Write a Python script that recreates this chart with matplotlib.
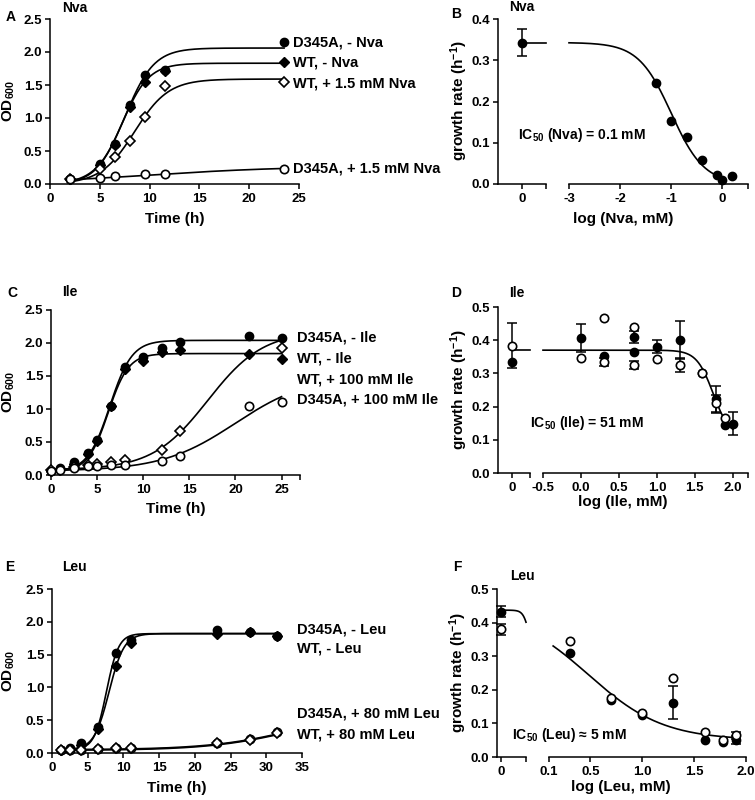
import numpy as np
import matplotlib
matplotlib.use('Agg')
import matplotlib.pyplot as plt

plt.rcParams['font.family'] = ['Liberation Sans', 'DejaVu Sans']
plt.rcParams['font.weight'] = 'bold'
plt.rcParams['mathtext.fontset'] = 'custom'
plt.rcParams['mathtext.rm'] = 'Liberation Sans:bold'
plt.rcParams['mathtext.it'] = 'Liberation Sans:bold'
plt.rcParams['mathtext.bf'] = 'Liberation Sans:bold'
plt.rcParams['axes.linewidth'] = 1.1

# ---------------- data ----------------
# A: growth curves, norvaline
tA = [2, 5, 6.5, 8, 9.5, 11.5, 23.5]
A_d345a_minus = [0.08, 0.31, 0.61, 1.19, 1.65, 1.73, 2.15]
A_wt_minus = [0.08, 0.29, 0.59, 1.17, 1.55, 1.71, 1.85]
A_wt_plus = [0.07, 0.22, 0.41, 0.65, 1.01, 1.48, 1.54]
tA_d345a_plus = [2, 5, 6.5, 9.5, 11.5, 23.5]
A_d345a_plus = [0.07, 0.09, 0.12, 0.15, 0.15, 0.23]
A_labels = ['D345A, - Nva', 'WT, - Nva', 'WT, + 1.5 mM Nva', 'D345A, + 1.5 mM Nva']
A_label_y = [2.15, 1.84, 1.53, 0.24]
# logistic fits: base, amplitude, t50, slope
A_fits = [(0.0, 2.06, 7.55, 1.45), (0.0, 1.83, 7.23, 1.34),
          (0.0, 1.59, 8.5, 1.7), (0.0, 0.27, 10.0, 7.0)]

# C: growth curves, isoleucine
tC = [0, 1, 2.5, 4, 5, 6.5, 8, 10, 12, 14, 21.5, 25]
C_d345a_minus = [0.066, 0.10, 0.19, 0.34, 0.53, 1.05, 1.63, 1.79, 1.92, 2.02, 2.10, 2.08]
C_wt_minus = [0.06, 0.09, 0.17, 0.32, 0.52, 1.05, 1.60, 1.72, 1.87, 1.90, 1.84, 1.76]
tC_wt_plus = [0, 1, 2.5, 4, 5, 6.5, 8, 12, 14, 25]
C_wt_plus = [0.07, 0.08, 0.12, 0.15, 0.17, 0.19, 0.22, 0.38, 0.67, 1.93]
tC_d345a_plus = [0, 1, 2.5, 4, 5, 6.5, 8, 12, 14, 21.5, 25]
C_d345a_plus = [0.06, 0.08, 0.10, 0.13, 0.14, 0.15, 0.15, 0.21, 0.29, 1.04, 1.11]
C_labels = ['D345A, - Ile', 'WT, - Ile', 'WT, + 100 mM Ile', 'D345A, + 100 mM Ile']
C_label_y = [2.09, 1.77, 1.45, 1.14]
C_fits = [(0.05, 1.99, 6.38, 1.2), (0.05, 1.79, 6.2, 1.1),
          (0.08, 2.1, 17.0, 3.0), (0.06, 1.45, 20.0, 4.0)]

# E: growth curves, leucine
tE = [1.2, 2.5, 4.0, 6.4, 9.0, 11.0, 23.1, 27.7, 31.5]
E_d345a_minus = [0.05, 0.07, 0.15, 0.39, 1.53, 1.73, 1.87, 1.85, 1.78]
E_wt_minus = [0.04, 0.06, 0.12, 0.37, 1.33, 1.68, 1.82, 1.84, 1.78]
E_d345a_plus = [0.05, 0.05, 0.05, 0.06, 0.07, 0.08, 0.16, 0.21, 0.32]
E_wt_plus = [0.04, 0.05, 0.05, 0.06, 0.07, 0.08, 0.15, 0.20, 0.31]
E_labels = ['D345A, - Leu', 'WT, - Leu', 'D345A, + 80 mM Leu', 'WT, + 80 mM Leu']
E_label_y = [1.88, 1.59, 0.60, 0.28]
E_fits = [(0.05, 1.77, 7.62, 0.85), (0.05, 1.77, 7.99, 1.05),
          (0.05, 0.6, 34.0, 6.0), (0.04, 0.6, 34.0, 6.0)]

# B: growth rate vs log [Nva]
B_zero_y, B_zero_err = [0.343], [0.033]
B_logc = [-1.3, -1.0, -0.7, -0.4, -0.1, 0.0, 0.18]
B_rate = [0.246, 0.153, 0.115, 0.059, 0.023, 0.010, 0.019]
B_fit = (0.343, 0.0, -1.0, 1.35)  # top, bottom, logIC50, hill

# D: growth rate vs log [Ile]
D_zero_fill, D_zero_open, D_zero_open_err = [0.333], [0.383], [0.068]
D_fill_x = [0.0, 0.30, 0.70, 0.70, 1.00, 1.30, 1.60, 1.78, 1.90, 2.00]
D_fill_y = [0.407, 0.352, 0.41, 0.364, 0.38, 0.40, 0.30, 0.222, 0.145, 0.148]
D_fill_err = [0.042, 0, 0.018, 0, 0.02, 0.058, 0, 0.04, 0, 0.035]
D_open_x = [0.0, 0.30, 0.30, 0.70, 0.70, 1.00, 1.30, 1.60, 1.78, 1.90]
D_open_y = [0.346, 0.468, 0.335, 0.44, 0.325, 0.343, 0.325, 0.30, 0.21, 0.165]
D_open_err = [0, 0, 0.012, 0, 0.012, 0, 0.022, 0, 0.025, 0]
D_fit = (0.37, 0.11, 1.74, 4.0)

# F: growth rate vs log [Leu]
F_zero_fill, F_zero_fill_err = [0.433], [0.015]
F_zero_open, F_zero_open_err = [0.38], [0.016]
F_x = [0.30, 0.70, 1.00, 1.30, 1.60, 1.78, 1.90]
F_fill_y = [0.309, 0.169, 0.125, 0.162, 0.050, 0.045, 0.050]
F_fill_err = [0, 0, 0, 0.05, 0, 0, 0.012]
F_open_y = [0.344, 0.176, 0.130, 0.234, 0.075, 0.052, 0.065]
F_open_err = [0, 0, 0, 0, 0, 0, 0.01]
F_fit = (0.44, 0.05, 0.48, 1.2)
F_fit_left = (0.437, 0.30, 0.28, 15.0)


def growth(t, base, amp, t50, s):
    return base + amp / (1 + np.exp(-(t - t50) / s))


def dose(x, top, bottom, x50, h):
    return bottom + (top - bottom) / (1 + 10 ** ((x - x50) * h))


W, H = 755, 800


def box(x0, y0, x1, y1):
    return [x0 / W, 1 - y1 / H, (x1 - x0) / W, (y1 - y0) / H]


def px(x, y):
    return x / W, 1 - y / H


def clean(ax, left=True):
    ax.spines['top'].set_visible(False)
    ax.spines['right'].set_visible(False)
    ax.patch.set_alpha(0)
    ax.tick_params(direction='out', length=3.5, width=1.1, labelsize=9.5)
    ax.tick_params(axis='y', pad=2)
    ax.tick_params(axis='x', pad=3)
    if not left:
        ax.spines['left'].set_visible(False)
        ax.tick_params(axis='y', left=False, labelleft=False)


FC = dict(marker='o', ms=6, color='k', ls='none', clip_on=False, zorder=3)
FD = dict(marker='D', ms=5, color='k', ls='none', clip_on=False, zorder=3)
OD = dict(marker='D', ms=5, mfc='white', mec='k', mew=1.2, ls='none', clip_on=False, zorder=4)
OC = dict(marker='o', ms=6, mfc='white', mec='k', mew=1.2, ls='none', clip_on=False, zorder=4)


def err(ax, x, y, e):
    x, y, e = np.array(x), np.array(y), np.array(e)
    m = e > 0
    ax.errorbar(x[m], y[m], yerr=e[m], fmt='none', ecolor='k', elinewidth=1.1,
                capsize=3.5, capthick=1.1, clip_on=False, zorder=2)


def growth_panel(rect, xmax, xticks, series, fits, labels, label_y, label_x):
    ax = fig.add_axes(box(*rect))
    clean(ax)
    for (t, y, st), f in zip(series, fits):
        tt = np.linspace(min(t), max(t), 300)
        ax.plot(tt, growth(tt, *f), color='k', lw=1.2, zorder=2)
        ax.plot(t, y, **st)
    ax.set_xlim(0, xmax)
    ax.set_ylim(0, 2.5)
    ax.set_xticks(xticks)
    ax.set_xticklabels([str(v) if v % 5 == 0 else '' for v in xticks])
    ax.set_yticks(np.arange(0, 2.51, 0.5))
    ax.set_yticklabels(['%.1f' % v for v in np.arange(0, 2.51, 0.5)])
    for lab, yy in zip(labels, label_y):
        ax.text(label_x, yy, lab, transform=ax.get_yaxis_transform(),
                fontsize=10.5, va='center', ha='left', clip_on=False)
    return ax


def broken_axes(y0, y1, xl, xr):
    axl = fig.add_axes(box(xl[0], y0, xl[1], y1))
    axr = fig.add_axes(box(xr[0], y0, xr[1], y1))
    clean(axl)
    clean(axr, left=False)
    return axl, axr


fig = plt.figure(figsize=(7.55, 8.0), dpi=100)

# ---- A ----
growth_panel((50, 19, 299, 184), 25, [0, 5, 10, 15, 20, 25],
             [(tA, A_d345a_minus, FC), (tA, A_wt_minus, FD),
              (tA, A_wt_plus, OD), (tA_d345a_plus, A_d345a_plus, OC)],
             A_fits, A_labels, A_label_y, 0.976)

# ---- C ----
growth_panel((51, 310, 300, 475), 27, [0, 5, 10, 15, 20, 25, 27],
             [(tC, C_d345a_minus, FC), (tC, C_wt_minus, FD),
              (tC_wt_plus, C_wt_plus, OD), (tC_d345a_plus, C_d345a_plus, OC)],
             C_fits, C_labels, C_label_y, 0.988)

# ---- E ----
growth_panel((52, 589, 302, 753), 35, [0, 5, 10, 15, 20, 25, 30, 35],
             [(tE, E_d345a_minus, FC), (tE, E_wt_minus, FD),
              (tE, E_d345a_plus, OC), (tE, E_wt_plus, OD)],
             E_fits, E_labels, E_label_y, 0.98)

# ---- B ----
bl, br = broken_axes(19, 184, (498, 546), (569, 748))
for a in (bl, br):
    a.set_ylim(0, 0.4)
bl.set_yticks(np.arange(0, 0.41, 0.1))
bl.set_yticklabels(['%.1f' % v for v in np.arange(0, 0.41, 0.1)])
bl.set_xlim(-0.5, 0.5)
bl.set_xticks([0, 0.5])
bl.set_xticklabels(['0', ''])
bl.plot([0, 0.5], [B_fit[0]] * 2, color='k', lw=1.2, clip_on=False)
err(bl, [0], B_zero_y, B_zero_err)
bl.plot([0], B_zero_y, **FC)
br.set_xlim(-3, 0.5)
br.set_xticks([-3, -2, -1, 0, 0.5])
br.set_xticklabels(['-3', '-2', '-1', '0', ''])
xx = np.linspace(-3, 0.02, 300)
br.plot(xx, dose(xx, *B_fit), color='k', lw=1.2, clip_on=False)
br.plot(B_logc, B_rate, **FC)

# ---- D ----
dl, dr = broken_axes(307, 473, (498, 530), (543, 748))
for a in (dl, dr):
    a.set_ylim(0, 0.5)
dl.set_yticks(np.arange(0, 0.51, 0.1))
dl.set_yticklabels(['%.1f' % v for v in np.arange(0, 0.51, 0.1)])
dl.set_xlim(-0.45, 0.55)
dl.set_xticks([0, 0.55])
dl.set_xticklabels(['0', ''])
dl.plot([0, 0.55], [D_fit[0]] * 2, color='k', lw=1.2, clip_on=False)
err(dl, [0], D_zero_open, D_zero_open_err)
dl.plot([0], D_zero_fill, **FC)
dl.plot([0], D_zero_open, **OC)
dr.set_xlim(-0.5, 2.2)
dr.set_xticks([-0.5, 0, 0.5, 1.0, 1.5, 2.0, 2.2])
dr.set_xticklabels(['-0.5', '0.0', '0.5', '1.0', '1.5', '2.0', ''])
xx = np.linspace(-0.5, 2.0, 300)
dr.plot(xx, dose(xx, *D_fit), color='k', lw=1.2, clip_on=False)
err(dr, D_fill_x, D_fill_y, D_fill_err)
err(dr, D_open_x, D_open_y, D_open_err)
dr.plot(D_fill_x, D_fill_y, **FC)
dr.plot(D_open_x, D_open_y, **OC)

# ---- F ----
fl, fr = broken_axes(589, 757, (497, 526), (549, 746))
for a in (fl, fr):
    a.set_ylim(0, 0.5)
fl.set_yticks(np.arange(0, 0.51, 0.1))
fl.set_yticklabels(['%.1f' % v for v in np.arange(0, 0.51, 0.1)])
fl.set_xlim(-0.04, 0.25)
fl.set_xticks([0, 0.25])
fl.set_xticklabels(['0', ''])
xx = np.linspace(0, 0.25, 100)
fl.plot(xx, dose(xx, *F_fit_left), color='k', lw=1.2, clip_on=False)
err(fl, [0], F_zero_fill, F_zero_fill_err)
err(fl, [0], F_zero_open, F_zero_open_err)
fl.plot([0], F_zero_fill, **FC)
fl.plot([0], F_zero_open, **OC)
fr.set_xlim(0.1, 2.0)
fr.set_xticks([0.1, 0.5, 1.0, 1.5, 2.0])
fr.set_xticklabels(['0.1', '0.5', '1.0', '1.5', '2.0'])
xx = np.linspace(0.14, 1.92, 300)
fr.plot(xx, dose(xx, *F_fit), color='k', lw=1.2, clip_on=False)
err(fr, F_x, F_fill_y, F_fill_err)
err(fr, F_x, F_open_y, F_open_err)
fr.plot(F_x, F_fill_y, **FC)
fr.plot(F_x, F_open_y, **OC)

# ---- axis labels, panel letters, titles ----
for x, y in [(9, 101), (9, 392), (9, 671)]:
    fig.text(*px(x, y), 'OD$_{600}$', rotation=90, fontsize=11, ha='center', va='center')
for x, y in [(459, 101), (459, 390), (458, 673)]:
    fig.text(*px(x, y), 'growth rate (h$^{-1}$)', rotation=90, fontsize=11,
             ha='center', va='center')
for x, y in [(175, 219), (176, 509), (177, 788)]:
    fig.text(*px(x, y), 'Time (h)', fontsize=11, ha='center', va='center')
fig.text(*px(623, 219), 'log (Nva, mM)', fontsize=11, ha='center', va='center')
fig.text(*px(623, 502), 'log (Ile, mM)', fontsize=11, ha='center', va='center')
fig.text(*px(621, 787), 'log (Leu, mM)', fontsize=11, ha='center', va='center')

for lab, x, y in [('A', 11, 17), ('B', 456, 14), ('C', 12, 293),
                  ('D', 456, 293), ('E', 10, 567), ('F', 457, 567)]:
    fig.text(*px(x, y), lab, fontsize=10, ha='center', va='center')
for lab, x, y in [('Nva', 75, 8), ('Nva', 522, 7), ('Ile', 70, 292),
                  ('Ile', 517, 293), ('Leu', 74, 567), ('Leu', 522, 576)]:
    fig.text(*px(x, y), lab, fontsize=10, ha='center', va='center')

fig.text(*px(518, 135), 'IC$_{50}$ (Nva) = 0.1 mM', fontsize=10, ha='left', va='center')
fig.text(*px(530, 423), 'IC$_{50}$ (Ile) = 51 mM', fontsize=10, ha='left', va='center')
fig.text(*px(512, 735), 'IC$_{50}$ (Leu) \u2248 5 mM', fontsize=10, ha='left', va='center')

fig.savefig('out.png', dpi=100)
